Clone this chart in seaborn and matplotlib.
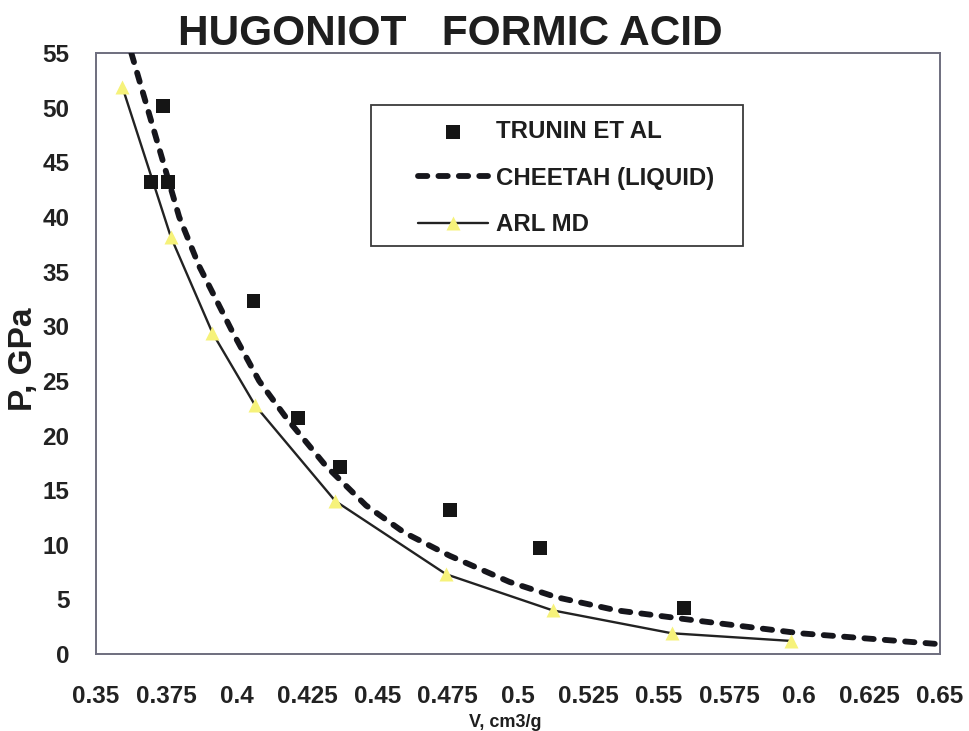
import seaborn as sns
import matplotlib.pyplot as plt
from matplotlib.patches import Rectangle

# data
trunin_v = [0.3695, 0.3739, 0.3757, 0.406, 0.4218, 0.4369, 0.4758, 0.508, 0.559]
trunin_p = [43.2, 50.2, 43.2, 32.3, 21.6, 17.1, 13.2, 9.7, 4.2]

cheetah_v = [0.3626, 0.3796, 0.3867, 0.3985, 0.408, 0.418, 0.4318, 0.446,
             0.4597, 0.4757, 0.497, 0.5137, 0.535, 0.5623, 0.6003, 0.65]
cheetah_p = [55, 40, 35.5, 29.5, 25.0, 21.5, 17.2, 13.6,
             11.1, 9.0, 6.6, 5.2, 4.0, 3.1, 1.9, 0.9]

arl_v = [0.3594, 0.3766, 0.3914, 0.4066, 0.4351, 0.4745, 0.5123, 0.5547, 0.597]
arl_p = [51.9, 38.2, 29.4, 22.75, 14.0, 7.3, 4.0, 1.9, 1.2]

xticks = [0.35, 0.375, 0.4, 0.425, 0.45, 0.475, 0.5, 0.525, 0.55, 0.575, 0.6, 0.625, 0.65]
xtick_labels = ['0.35', '0.375', '0.4', '0.425', '0.45', '0.475', '0.5', '0.525',
                '0.55', '0.575', '0.6', '0.625', '0.65']
yticks = list(range(0, 56, 5))

sns.set_style('white')
plt.rcParams['font.family'] = ['Liberation Sans', 'DejaVu Sans']
plt.rcParams['font.weight'] = 'bold'

fig = plt.figure(figsize=(9.69, 7.31), dpi=100)
ax = fig.add_axes([0.099, 0.1053, 0.871, 0.822])

spine_col = '#6e6e7e'

sns.scatterplot(x=trunin_v, y=trunin_p, ax=ax, marker='s', s=100, color='#151515',
                edgecolor='none', label='TRUNIN ET AL', zorder=4)
sns.lineplot(x=cheetah_v, y=cheetah_p, ax=ax, color='#16161c', lw=4.2,
             dashes=False, label='CHEETAH (LIQUID)', zorder=3)
dash_line = ax.lines[-1]
dash_line.set_dashes((1.6, 1.9))
dash_line.set_dash_capstyle('round')
sns.lineplot(x=arl_v, y=arl_p, ax=ax, color='#222222', lw=1.7, marker='^',
             markersize=10, markerfacecolor='#f6f27a', markeredgecolor='none',
             label='ARL MD', zorder=3)

ax.set_xlim(0.35, 0.65)
ax.set_ylim(0, 55)
ax.set_xticks(xticks)
ax.set_xticklabels(xtick_labels)
ax.set_yticks(yticks)

ax.tick_params(axis='x', direction='out', length=6, width=1.2, color=spine_col,
               pad=16, labelsize=17.5, labelcolor='#222222')
ax.tick_params(axis='y', length=0, pad=19, labelsize=17.5, labelcolor='#222222')
for lbl in ax.get_xticklabels() + ax.get_yticklabels():
    lbl.set_fontweight('bold')

for sp in ax.spines.values():
    sp.set_visible(True)
    sp.set_color(spine_col)
    sp.set_linewidth(1.4)

ax.set_title('HUGONIOT   FORMIC ACID', fontsize=30.5, fontweight='bold',
             color='#1e1e1e', pad=6, x=(450 - 96) / 844)
ax.set_ylabel('P, GPa', fontsize=24, fontweight='bold', color='#1e1e1e')
ax.yaxis.set_label_coords(-0.067, 0.49)
ax.set_xlabel('V, cm3/g', fontsize=13, fontweight='bold', color='#1e1e1e')
ax.xaxis.set_label_coords(0.485, -0.1)

# legend box
ax.add_patch(Rectangle(((371 - 96) / 844, (654 - 246) / 601), 372 / 844, 141 / 601,
                       transform=ax.transAxes, fill=False, edgecolor='#3a3a3a',
                       lw=1.3, zorder=5))
handles, labels = ax.get_legend_handles_labels()
leg = ax.legend(handles, labels, loc='upper left',
                bbox_to_anchor=((418 - 96) / 844, (654 - 120) / 601),
                frameon=False, borderpad=0, borderaxespad=0, fontsize=17.3,
                handlelength=2.9, handletextpad=0.35, labelspacing=0.98)
for t in leg.get_texts():
    t.set_fontweight('bold')
    t.set_color('#1e1e1e')

fig.savefig('out.png', dpi=100)
